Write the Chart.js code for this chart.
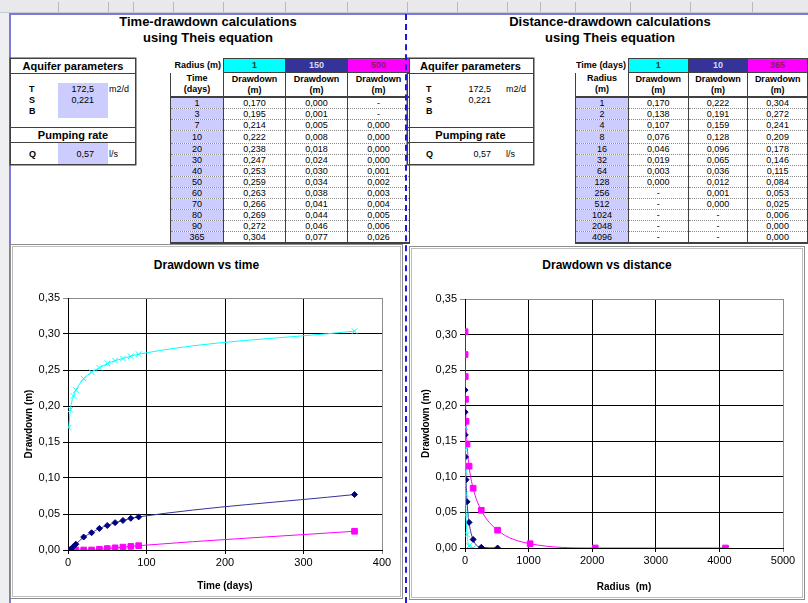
<!DOCTYPE html>
<html>
<head>
<meta charset="utf-8">
<script src="https://cdn.jsdelivr.net/npm/chart.js@4"></script>
<style>
  html, body { margin: 0; padding: 0; background: #fff; }
  body { width: 808px; height: 603px; overflow: hidden; position: relative; font-family: Arial, "Liberation Sans", sans-serif; color: #000; }
  .abs { position: absolute; }
  .ruler { left: 0; top: 0; width: 808px; height: 12px; background: #e9e9ec; border-bottom: 1px solid #c8c8d0; }
  .ruler i { position: absolute; top: 2px; width: 1px; height: 10px; background: #b8b8c0; }
  .rowhdr { left: 0; top: 13px; width: 9px; height: 590px; background: #efeff2; }
  .frame-top { left: 10px; top: 13px; width: 798px; height: 2px; background: #7a7ad8; }
  .frame-left { left: 9px; top: 13px; width: 2px; height: 590px; background: #7a7ad8; }
  .pagebreak { left: 405px; top: 14px; width: 0; height: 589px; border-left: 2px dashed #1a1ae6; }
  .title { font-weight: bold; font-size: 13px; text-align: center; line-height: 16px; }
  .box { border: 1px solid #404040; box-shadow: 0 0 0 0.5px #404040; }
  .box .hd { font-weight: bold; font-size: 11px; text-align: center; border-bottom: 1px solid #404040; height: 14px; line-height: 14px; }
  .box .lbl { position: absolute; font-size: 9px; font-weight: bold; line-height: 11px; }
  .box .val { position: absolute; font-size: 9px; text-align: right; line-height: 11px; }
  .box .unit { position: absolute; font-size: 9px; line-height: 11px; }
  .lav { background: #ccccff; }
  table.dd { border-collapse: collapse; table-layout: fixed; font-size: 9px; }
  table.dd td { padding: 0; text-align: center; overflow: hidden; white-space: nowrap; }
  table.dd tr.top td { height: 13px; line-height: 13px; border: 1px solid #404040; }
  table.dd tr.top td.lab { border: none; text-align: right; font-weight: bold; padding-right: 2px; }
  table.dd tr.head td { height: 23px; line-height: 11px; font-weight: bold; border-left: 1px solid #404040; border-right: 1px solid #404040; border-bottom: 2px solid #404040; }
  table.dd tr.row td { height: 10px; line-height: 10px; border-left: 1px solid #404040; border-right: 1px solid #404040; border-bottom: 1px dotted #8a8a8a; }
  table.dd tr.row.tall td { height: 11px; line-height: 12px; }
  table.dd tr.row.last td { border-bottom: 2px solid #404040; }
  .chartbox { border: 1px solid #8c8c8c; outline: 1px solid #bdbdbd; outline-offset: -3px; background: #fff; }
  .ctitle { font-weight: bold; font-size: 12px; text-align: center; }
</style>
</head>
<body>

<div class="abs ruler" id="ruler"></div>
<div class="abs rowhdr"></div>
<div class="abs frame-top"></div>
<div class="abs frame-left"></div>

<div class="abs title" style="left:60px; top:14px; width:296px;">Time-drawdown calculations<br>using Theis equation</div>
<div class="abs title" style="left:460px; top:14px; width:300px;">Distance-drawdown calculations<br>using Theis equation</div>

<!-- aquifer boxes -->
<div class="abs box" id="aqLeft" style="left:10px; top:58px; width:124px; height:105px;"></div>
<div class="abs box" id="aqRight" style="left:407px; top:58px; width:125px; height:105px;"></div>

<!-- calculation tables -->
<div class="abs" id="tabLeft" style="left:170px; top:58px;"></div>
<div class="abs" id="tabRight" style="left:575px; top:58px;"></div>

<!-- charts -->
<div class="abs chartbox" style="left:10px; top:244px; width:391px; height:353px;"></div>
<div class="abs ctitle" style="left:10px; top:258px; width:393px;">Drawdown vs time</div>
<canvas class="abs" id="timeChart" width="386" height="348" style="left:14px; top:248px;"></canvas>

<div class="abs chartbox" style="left:409px; top:246px; width:394px; height:352px;"></div>
<div class="abs ctitle" style="left:409px; top:258px; width:396px;">Drawdown vs distance</div>
<canvas class="abs" id="distChart" width="392" height="348" style="left:411px; top:249px;"></canvas>

<div class="abs pagebreak"></div>

<script>
// Aquifer parameters
const transmissivity = '172,5';
const storativity = '0,221';
const pumpingRate = '0,57';

// Time-drawdown: radius columns and drawdown (m) per time
const radii = [1, 150, 500];
const times = [1, 3, 7, 10, 20, 30, 40, 50, 60, 70, 80, 90, 365];
const ddRadius1 = [0.170, 0.195, 0.214, 0.222, 0.238, 0.247, 0.253, 0.259, 0.263, 0.266, 0.269, 0.272, 0.304];
const ddRadius150 = [0.000, 0.001, 0.005, 0.008, 0.018, 0.024, 0.030, 0.034, 0.038, 0.041, 0.044, 0.046, 0.077];
const ddRadius500 = [null, null, 0.000, 0.000, 0.000, 0.000, 0.001, 0.002, 0.003, 0.004, 0.005, 0.006, 0.026];

// Distance-drawdown: time columns and drawdown (m) per radius
const days = [1, 10, 365];
const distances = [1, 2, 4, 8, 16, 32, 64, 128, 256, 512, 1024, 2048, 4096];
const ddDay1 = [0.170, 0.138, 0.107, 0.076, 0.046, 0.019, 0.003, 0.000, null, null, null, null, null];
const ddDay10 = [0.222, 0.191, 0.159, 0.128, 0.096, 0.065, 0.036, 0.012, 0.001, 0.000, null, null, null];
const ddDay365 = [0.304, 0.272, 0.241, 0.209, 0.178, 0.146, 0.115, 0.084, 0.053, 0.025, 0.006, 0.000, 0.000];

// Axis ticks
const yTicks = [0, 0.05, 0.10, 0.15, 0.20, 0.25, 0.30, 0.35];
const timeTicks = [0, 100, 200, 300, 400];
const distTicks = [0, 1000, 2000, 3000, 4000, 5000];

const seriesColors = ['#00ffff', '#333399', '#ff00ff'];
const headTextColors = ['#333', '#d8d8e8', '#8a1a6a'];

// spreadsheet ruler
const colEdges = [58, 108, 133, 173, 223, 285, 347, 407, 457, 507, 540, 575, 630, 690, 752];
const ruler = document.getElementById('ruler');
colEdges.forEach(x => {
  const tick = document.createElement('i');
  tick.style.left = x + 'px';
  ruler.appendChild(tick);
});

function fmt(v) {
  return v === null ? '-' : v.toFixed(3).replace('.', ',');
}

function buildAquifer(el, shaded) {
  const lav = shaded ? 'lav' : '';
  el.innerHTML = `
    <div class="hd">Aquifer parameters</div>
    <div class="abs ${lav}" style="left:47px; top:24px; width:50px; height:35px;"></div>
    <div class="lbl" style="left:18px; top:25px;">T<br>S<br>B</div>
    <div class="val" style="left:55px; width:28px; top:25px;">${transmissivity}<br>${storativity}</div>
    <div class="unit" style="left:98px; top:25px;">m2/d</div>
    <div class="hd" style="position:absolute; top:68px; left:0; width:100%; border-top:1px solid #404040;">Pumping rate</div>
    <div class="abs ${lav}" style="left:47px; top:84px; width:50px; height:21px;"></div>
    <div class="lbl" style="left:18px; top:90px;">Q</div>
    <div class="val" style="left:55px; width:28px; top:90px;">${pumpingRate}</div>
    <div class="unit" style="left:98px; top:90px;">l/s</div>`;
}

function buildTable(el, label, cols, firstHead, rowsX, series) {
  let html = '<table class="dd"><colgroup><col style="width:53px"><col style="width:62px"><col style="width:62px"><col style="width:62px"></colgroup>';
  html += '<tr class="top"><td class="lab">' + label + '</td>';
  cols.forEach((c, i) => {
    html += `<td style="background:${seriesColors[i]}; color:${headTextColors[i]}; font-weight:bold;">${c}</td>`;
  });
  html += '</tr><tr class="head"><td>' + firstHead + '</td>';
  cols.forEach(() => { html += '<td>Drawdown<br>(m)</td>'; });
  html += '</tr>';
  rowsX.forEach((x, r) => {
    let cls = 'row';
    if (r === 3) cls += ' tall';
    if (r === rowsX.length - 1) cls += ' last';
    html += `<tr class="${cls}"><td class="lav">${x}</td>`;
    series.forEach(s => { html += `<td>${fmt(s[r])}</td>`; });
    html += '</tr>';
  });
  html += '</table>';
  el.innerHTML = html;
}

buildAquifer(document.getElementById('aqLeft'), true);
buildAquifer(document.getElementById('aqRight'), false);
buildTable(document.getElementById('tabLeft'), 'Radius (m)', radii, 'Time<br>(days)', times, [ddRadius1, ddRadius150, ddRadius500]);
buildTable(document.getElementById('tabRight'), 'Time (days)', days, 'Radius<br>(m)', distances, [ddDay1, ddDay10, ddDay365]);

function points(xs, ys) {
  return xs.map((x, i) => ({ x: x, y: ys[i] })).filter(p => p.y !== null);
}

const markerStyles = [
  { pointStyle: 'crossRot', pointRadius: 4, borderWidth: 1 },
  { pointStyle: 'rectRot', pointRadius: 3, borderWidth: 1 },
  { pointStyle: 'rect', pointRadius: 4, borderWidth: 1 }
];
const markerColors = ['#00ffff', '#000080', '#ff00ff'];

function makeDatasets(xs, series, names) {
  return series.map((s, i) => ({
    label: names[i],
    data: points(xs, s),
    showLine: true,
    borderColor: seriesColors[i],
    backgroundColor: markerColors[i],
    pointBorderColor: markerColors[i],
    pointBackgroundColor: markerColors[i],
    pointStyle: markerStyles[i].pointStyle,
    pointRadius: markerStyles[i].pointRadius,
    pointBorderWidth: markerStyles[i].borderWidth,
    borderWidth: 1,
    cubicInterpolationMode: 'monotone'
  }));
}

function axisOptions(xTicks, xTitle, plotRight, xHeight) {
  const xMax = xTicks[xTicks.length - 1];
  const yMax = yTicks[yTicks.length - 1];
  return {
    responsive: false,
    animation: false,
    layout: { autoPadding: false, padding: { top: 50, right: plotRight, left: 0, bottom: 0 } },
    plugins: { legend: { display: false }, tooltip: { enabled: false } },
    scales: {
      x: {
        type: 'linear', min: 0, max: xMax,
        afterBuildTicks: s => { s.ticks = xTicks.map(v => ({ value: v })); },
        ticks: { color: '#000', font: { family: 'Arial', size: 11 }, padding: 2, maxRotation: 0, callback: v => String(v) },
        grid: { color: c => (c.tick && c.tick.value === xMax) ? '#8c8c8c' : '#000', tickLength: 4, lineWidth: 1 },
        border: { color: '#000' },
        title: { display: true, text: xTitle, color: '#000', font: { family: 'Arial', size: 10, weight: 'bold' }, padding: { top: 4 } },
        afterFit: s => { s.height = xHeight; }
      },
      y: {
        type: 'linear', min: 0, max: yMax,
        afterBuildTicks: s => { s.ticks = yTicks.map(v => ({ value: v })); },
        ticks: { color: '#000', font: { family: 'Arial', size: 11 }, padding: 3, callback: v => v.toFixed(2).replace('.', ',') },
        grid: { color: c => (c.tick && c.tick.value === yMax) ? '#8c8c8c' : '#000', tickLength: 5, lineWidth: 1 },
        border: { color: '#000' },
        title: { display: true, text: 'Drawdown (m)', color: '#000', font: { family: 'Arial', size: 10, weight: 'bold' }, padding: { top: 9, bottom: 2 } },
        afterFit: s => { s.width = 54; }
      }
    }
  };
}

const timeChart = new Chart(document.getElementById('timeChart'), {
  type: 'scatter',
  data: { datasets: makeDatasets(times, [ddRadius1, ddRadius150, ddRadius500], radii.map(r => r + ' m')) },
  options: axisOptions(timeTicks, 'Time (days)', 18, 46)
});

const distChart = new Chart(document.getElementById('distChart'), {
  type: 'scatter',
  data: { datasets: makeDatasets(distances, [ddDay1, ddDay10, ddDay365], days.map(d => d + ' days')) },
  options: axisOptions(distTicks, 'Radius  (m)', 20, 49)
});
</script>
</body>
</html>
